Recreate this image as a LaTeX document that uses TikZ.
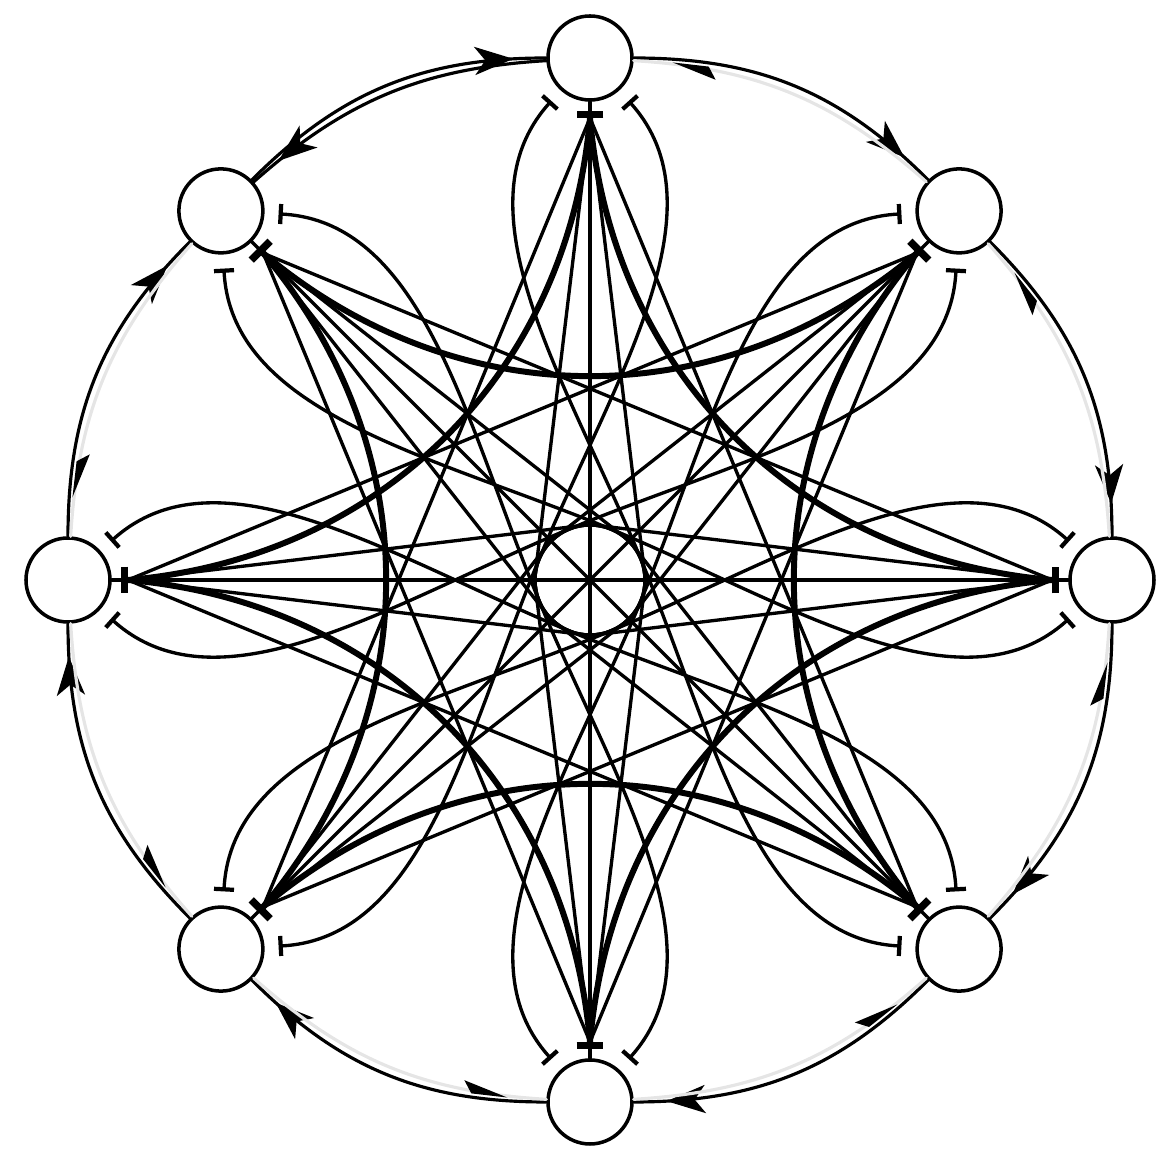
\documentclass[tikz,border=0pt]{standalone}
\usepackage{tikz}
\usetikzlibrary{arrows.meta}
\usetikzlibrary{decorations.markings}
\definecolor{palegray}{rgb}{0.9, 0.9, 0.9}

\begin{document}
\begin{tikzpicture}[line cap=round,line join=round,
    gene/.style={circle,draw,line width=1pt,fill=white,minimum size=0.84cm,inner sep=0pt},
    actarc/.style={line width=0.9pt,postaction={decorate},
        decoration={markings,mark=at position 0.9 with {\arrow{Stealth[length=11pt,width=8pt,inset=3pt]}}}},
    backarc/.style={line width=0.9pt,color=palegray,postaction={decorate},
        decoration={markings,mark=at position 0.88 with {\arrow{Stealth[harpoon,length=11pt,width=6pt,inset=2pt,color=black]}}}},
    inhline/.style={line width=0.95pt},
    inhthick/.style={line width=1.7pt},
    hubbar/.style={line width=0.95pt,-{Bar[width=7.6pt,line width=2.1pt]}},
    sideline/.style={line width=0.95pt,{Bar[width=5.7pt,line width=1.2pt]}-{Bar[width=5.7pt,line width=1.2pt]},
        shorten <=0.14cm,shorten >=0.14cm}]
  \useasboundingbox (-5.90,-5.84) rectangle (5.85,5.80);
  \foreach \k in {0,...,7}
    \node[gene] (n\k) at ({90-45*\k}:5.22) {};
  \foreach \k in {0,...,7}
    \coordinate (h\k) at ({90-45*\k}:4.62);
  \foreach \k in {0,...,7}{
    \pgfmathtruncatemacro\j{mod(\k+1,8)}
    \draw[actarc] (n\k) to[bend left=22.5] (n\j);
    \ifnum\k=7
      \draw[actarc] (n\j) to[bend right=19] (n\k);
    \else
      \draw[backarc] (n\j) to[bend right=19] (n\k);
    \fi
  }
  \foreach \k in {0,...,7}{
    \pgfmathtruncatemacro\m{mod(\k+5,8)}
    \pgfmathtruncatemacro\as{228-45*\k}
    \pgfmathtruncatemacro\ae{87-45*\k}
    \draw[sideline,rotate=-45*\k] (n\k.\as) .. controls +(228:1.6) and +(112.5:1.9) .. (22.5:0.55)
      arc[start angle=22.5,end angle=-67.5,radius=0.55]
      .. controls +(202.5:1.9) and +(87:1.6) .. (n\m.\ae);
  }
  \foreach \k in {0,...,3}{
    \pgfmathtruncatemacro\m{\k+4}
    \draw[inhline] (h\k) -- (h\m);
    \draw[inhline,rotate=-45*\k] (h\k) -- (6.8:0.55) arc[start angle=6.8,end angle=-6.8,radius=0.55] -- (h\m);
    \draw[inhline,rotate=-45*\k] (h\k) -- (173.2:0.55) arc[start angle=173.2,end angle=186.8,radius=0.55] -- (h\m);
  }
  \foreach \k in {0,...,7}{
    \pgfmathtruncatemacro\m{mod(\k+3,8)}
    \pgfmathtruncatemacro\p{mod(\k+2,8)}
    \draw[inhline] (h\k) -- (h\m);
    \draw[inhthick] (h\k) to[bend right=40] (h\p);
    \draw[hubbar] (n\k) -- (h\k);
  }
\end{tikzpicture}
\end{document}
